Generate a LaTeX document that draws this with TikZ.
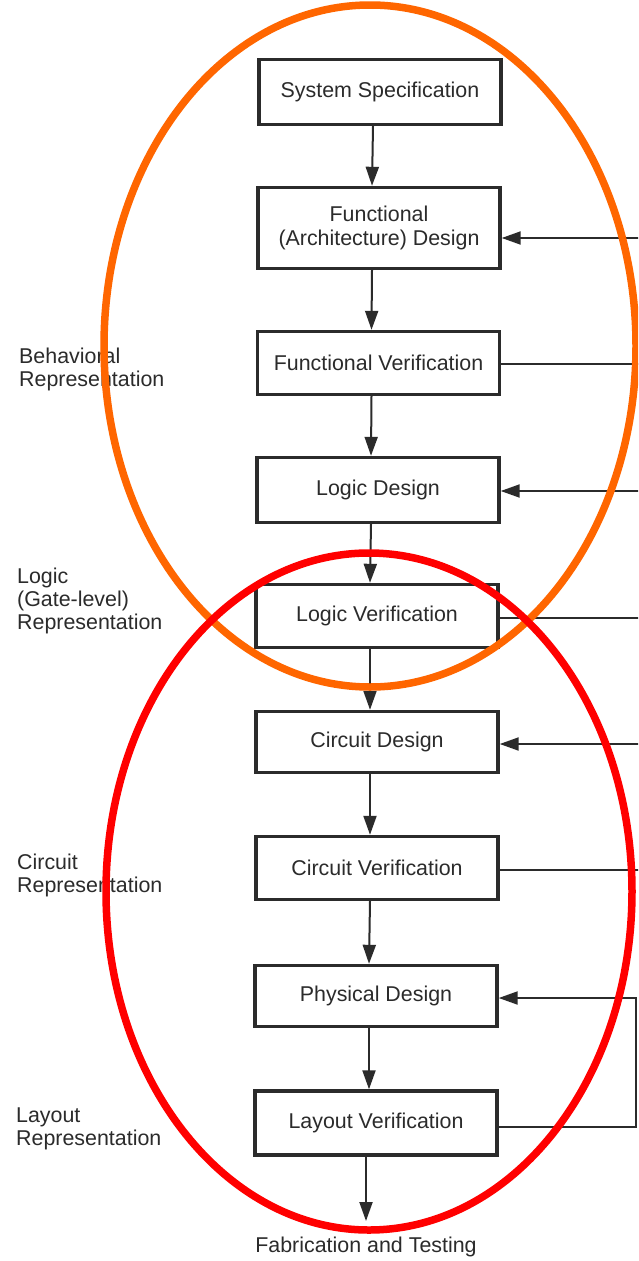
\documentclass[tikz,border=0pt]{standalone}
\usepackage{fontspec}
\setmainfont{Liberation Sans}
\usetikzlibrary{arrows.meta,calc}
\definecolor{ink}{HTML}{2B2B2B}
\definecolor{ringorange}{HTML}{FF6600}
\definecolor{ringred}{HTML}{FF0000}
\tikzset{
  stagebox/.style={draw=ink, line width=3.4pt, minimum width=242pt, inner sep=0pt,
                   text=ink, align=center, font=\fontsize{21.4}{24}\selectfont},
  flow/.style={draw=ink, line width=2pt, -{Triangle[length=19pt,width=13pt]}},
  feedback/.style={draw=ink, line width=2pt},
  feedin/.style={feedback, -{Triangle[length=19pt,width=13pt]}},
  sidelabel/.style={anchor=west, inner sep=0pt, align=left, text=ink,
                    font=\fontsize{21.4}{23}\selectfont},
  ring/.style={line width=7.5pt},
}
\begin{document}
\begin{tikzpicture}[x=1pt,y=-1pt]
\useasboundingbox (0,0) rectangle (638,1261);
\fill[white] (0,0) rectangle (638,1261);
\clip (0,0) rectangle (638,1261);

% design flow stages
\node[stagebox, minimum height=65pt] (ss)  at (380,92)   {System Specification};
\node[stagebox, minimum height=81pt] (fd)  at (379,228)  {Functional\\(Architecture) Design};
\node[stagebox, minimum height=63pt] (fv)  at (378.5,363){Functional Verification};
\node[stagebox, minimum height=65pt] (ld)  at (378,490)  {Logic Design};
\node[stagebox, minimum height=63pt] (lv)  at (377,616)  {Logic Verification};
\node[stagebox, minimum height=61pt] (cd)  at (377,742)  {Circuit Design};
\node[stagebox, minimum height=63pt] (cv)  at (377,868)  {Circuit Verification};
\node[stagebox, minimum height=61pt] (pd)  at (376,996)  {Physical Design};
\node[stagebox, minimum height=64pt] (lyv) at (376,1123) {Layout Verification};
\node[text=ink, inner sep=0pt, font=\fontsize{21.4}{24}\selectfont] (fab) at (366,1247) {Fabrication and Testing};

% downward flow
\foreach \a/\b in {ss/fd, fd/fv, fv/ld, ld/lv, lv/cd, cd/cv, cv/pd, pd/lyv}
  \draw[flow] ([xshift=-7pt]\a.south) -- ([xshift=-7pt]\b.north);
\coordinate (fabtop) at (366,1221);
\draw[flow] ([xshift=-10pt]lyv.south) -- (fabtop);

% feedback returns on the right
\coordinate (rfd) at (640,238);
\coordinate (rfv) at (640,364);
\coordinate (rld) at (640,491);
\coordinate (rlv) at (640,618);
\coordinate (rcd) at (640,744);
\coordinate (rcv) at (640,870);
\coordinate (rpd) at (636,998);
\coordinate (rlyv) at (636,1127);
\draw[feedin] (rfd) -- (rfd -| fd.east);
\draw[feedback] (rfv -| fv.east) -- (rfv);
\draw[feedin] (rld) -- (rld -| ld.east);
\draw[feedback] (rlv -| lv.east) -- (rlv);
\draw[feedin] (rcd) -- (rcd -| cd.east);
\draw[feedback] (rcv -| cv.east) -- (rcv);
\draw[feedin] (rlyv -| lyv.east) -- (rlyv) -- (rpd) -- (rpd -| pd.east);

% representation levels
\node[sidelabel] (beh) at (19,369)  {Behavioral\\Representation};
\node[sidelabel] (gat) at (17,601)  {Logic\\(Gate-level)\\Representation};
\node[sidelabel] (cir) at (17,875)  {Circuit\\Representation};
\node[sidelabel] (lay) at (16,1129) {Layout\\Representation};

% grouping rings
\draw[ring, ringorange] (370,346) ellipse [x radius=266pt, y radius=341pt];
\draw[ring, ringred] (369,891.5) ellipse [x radius=263pt, y radius=338.5pt];
\end{tikzpicture}
\end{document}
